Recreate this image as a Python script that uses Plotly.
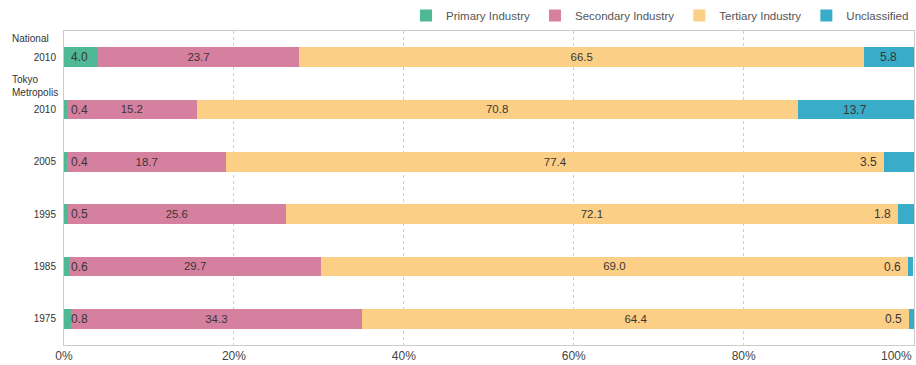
import plotly.graph_objects as go

categories = ["National 2010", "Tokyo 2010", "Tokyo 2005", "Tokyo 1995", "Tokyo 1985", "Tokyo 1975"]
tick_labels = ["2010", "2010", "2005", "1995", "1985", "1975"]
primary = [4.0, 0.4, 0.4, 0.5, 0.6, 0.8]
secondary = [23.7, 15.2, 18.7, 25.6, 29.7, 34.3]
tertiary = [66.5, 70.8, 77.4, 72.1, 69.0, 64.4]
unclassified = [5.8, 13.7, 3.5, 1.8, 0.6, 0.5]
x_tick_values = [0, 20, 40, 60, 80, 100]
x_tick_labels = ["0%", "20%", "40%", "60%", "80%", "100%"]

series_names = ["Primary Industry", "Secondary Industry", "Tertiary Industry", "Unclassified"]
colors = ["#4fb894", "#d5809f", "#fbcf86", "#39acca"]
label_color = "#3b3535"
font_family = "Liberation Sans, Arial, sans-serif"

fig = go.Figure()
fig.add_trace(go.Bar(y=categories, x=primary, orientation="h", name=series_names[0],
                     marker=dict(color=colors[0], line=dict(width=0))))
fig.add_trace(go.Bar(y=categories, x=secondary, orientation="h", name=series_names[1],
                     marker=dict(color=colors[1], line=dict(width=0)),
                     text=[f"{v:.1f}" for v in secondary], textposition="inside",
                     insidetextanchor="middle",
                     textfont=dict(color=label_color, size=12, family=font_family)))
fig.add_trace(go.Bar(y=categories, x=tertiary, orientation="h", name=series_names[2],
                     marker=dict(color=colors[2], line=dict(width=0)),
                     text=[f"{v:.1f}" for v in tertiary], textposition="inside",
                     insidetextanchor="middle",
                     textfont=dict(color=label_color, size=12, family=font_family)))
fig.add_trace(go.Bar(y=categories, x=unclassified, orientation="h", name=series_names[3],
                     marker=dict(color=colors[3], line=dict(width=0))))

for cat, v in zip(categories, primary):
    fig.add_annotation(x=0, y=cat, xref="x", yref="y", text=f"{v:.1f}", showarrow=False,
                       xanchor="left", xshift=5,
                       font=dict(color=label_color, size=12, family=font_family))
for cat, v in zip(categories, unclassified):
    if v >= 5:
        fig.add_annotation(x=100 - v / 2, y=cat, xref="x", yref="y", text=f"{v:.1f}",
                           showarrow=False, xanchor="center",
                           font=dict(color=label_color, size=12, family=font_family))
    else:
        fig.add_annotation(x=100 - v, y=cat, xref="x", yref="y", text=f"{v:.1f}",
                           showarrow=False, xanchor="right", xshift=-5,
                           font=dict(color=label_color, size=12, family=font_family))

# Group labels placed above their rows
fig.add_annotation(x=0, y=categories[0], xref="paper", yref="y", yshift=19, xshift=-54,
                   xanchor="left", text="National", showarrow=False,
                   font=dict(color="#333", size=10, family=font_family))
fig.add_annotation(x=0, y=categories[1], xref="paper", yref="y", yshift=24, xshift=-54,
                   xanchor="left", align="left", text="Tokyo<br>Metropolis", showarrow=False,
                   font=dict(color="#333", size=10, family=font_family))

# last x tick label drawn right-aligned so it stays inside the page
shown_ticktext = x_tick_labels[:-1] + [""]
fig.add_annotation(x=x_tick_values[-1], y=0, xref="x", yref="paper", xanchor="right",
                   yanchor="top", yshift=-2, text=x_tick_labels[-1], showarrow=False,
                   font=dict(size=12, color="#444", family=font_family))

fig.update_layout(
    barmode="stack",
    bargap=0.63,
    width=916, height=365,
    margin=dict(l=64, r=2, t=30, b=20),
    paper_bgcolor="white", plot_bgcolor="white",
    font=dict(family=font_family, color="#444", size=11),
    legend=dict(orientation="h", x=1, xanchor="right", y=1.0, yanchor="bottom",
                font=dict(size=11.5, color="#555"), traceorder="normal",
                itemwidth=30, bgcolor="rgba(0,0,0,0)"),
    xaxis=dict(range=[0, 100.05], tickvals=x_tick_values, ticktext=shown_ticktext,
               showgrid=True, gridcolor="#cfcfcf", griddash="dot", gridwidth=1,
               showline=True, linecolor="#cccccc", mirror=True, zeroline=False,
               automargin=False,
               tickfont=dict(size=12, color="#444"), ticks=""),
    yaxis=dict(type="category", categoryorder="array", categoryarray=categories,
               autorange="reversed", automargin=False,
               tickvals=categories, ticktext=tick_labels,
               showline=True, linecolor="#cccccc", mirror=True, showgrid=False,
               tickfont=dict(size=10, color="#333"), ticks="", ticklabelstandoff=5),
)

fig.write_html("out.html")
